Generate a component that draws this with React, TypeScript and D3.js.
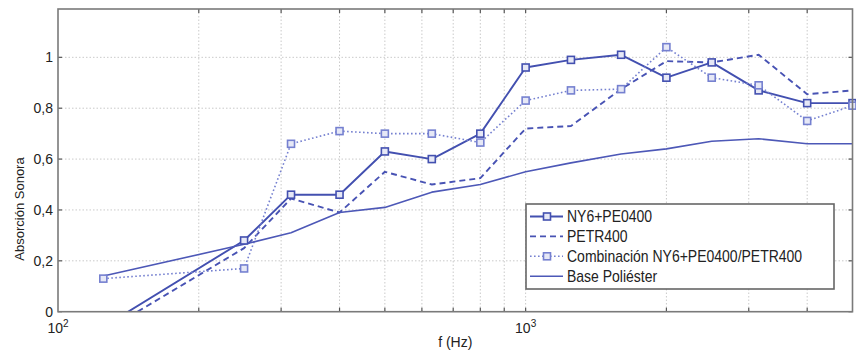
import { useEffect, useRef } from 'react';
import * as d3 from 'd3';

// third-octave bands measured (Hz)
const freqs = [125, 250, 315, 400, 500, 630, 800, 1000, 1250, 1600, 2000, 2500, 3150, 4000, 5000];

const ny6 = [-0.06, 0.28, 0.46, 0.46, 0.63, 0.6, 0.7, 0.96, 0.99, 1.01, 0.92, 0.98, 0.87, 0.82, 0.82];
const petr = [-0.08, 0.25, 0.445, 0.39, 0.55, 0.5, 0.525, 0.72, 0.73, 0.875, 0.985, 0.98, 1.01, 0.855, 0.87];
const combo = [0.13, 0.17, 0.66, 0.71, 0.7, 0.7, 0.665, 0.83, 0.87, 0.875, 1.04, 0.92, 0.89, 0.75, 0.81];
const base = [0.14, 0.265, 0.31, 0.39, 0.41, 0.47, 0.5, 0.55, 0.585, 0.62, 0.64, 0.67, 0.68, 0.66, 0.66];

const yTicks = [0, 0.2, 0.4, 0.6, 0.8, 1];
const yTickLabels = ['0', '0,2', '0,4', '0,6', '0,8', '1'];
const xMinor = [200, 300, 400, 500, 600, 700, 800, 900, 1000, 2000, 3000, 4000];
const xMajor = [{ v: 100, exp: '2' }, { v: 1000, exp: '3' }];

const series = [
  { name: 'NY6+PE0400', values: ny6, color: '#4350b0', dash: null, width: 1.9, marker: true },
  { name: 'PETR400', values: petr, color: '#4853b4', dash: '6,4', width: 1.9, marker: false },
  { name: 'Combinación NY6+PE0400/PETR400', values: combo, color: '#7580d0', dash: '1.6,2.4', width: 1.6, marker: true },
  { name: 'Base Poliéster', values: base, color: '#4d58b7', dash: null, width: 1.6, marker: false },
];

const W = 856, H = 354;
const FONT = '"Liberation Sans", Arial, sans-serif';

export default function App() {
  const svgRef = useRef<SVGSVGElement>(null);

  useEffect(() => {
    const svg = d3.select(svgRef.current);
    svg.selectAll('*').remove();

    const left = 58, right = 852.5, top = 9, bottom = 311.7;
    const x = d3.scaleLog().domain([100, 5000]).range([left, right]);
    const y = d3.scaleLinear().domain([0, 1.19]).range([bottom, top]);

    svg.append('rect').attr('width', W).attr('height', H).attr('fill', '#fff');

    svg.append('defs').append('clipPath').attr('id', 'plot-clip')
      .append('rect').attr('x', left).attr('y', top)
      .attr('width', right - left).attr('height', bottom - top);

    // grid
    const grid = svg.append('g').attr('stroke', '#cacaca').attr('stroke-width', 1)
      .attr('stroke-dasharray', '1.5,2');
    grid.selectAll('.vg').data(xMinor).join('line')
      .attr('x1', d => x(d)).attr('x2', d => x(d)).attr('y1', top).attr('y2', bottom);
    grid.selectAll('.hg').data(yTicks.slice(1)).join('line')
      .attr('x1', left).attr('x2', right).attr('y1', d => y(d)).attr('y2', d => y(d));

    // tick marks (inward, all four sides)
    const ticks = svg.append('g').attr('stroke', '#555').attr('stroke-width', 1.2);
    ticks.selectAll('.tb').data(xMinor).join('line')
      .attr('x1', d => x(d)).attr('x2', d => x(d)).attr('y1', bottom).attr('y2', bottom - 4);
    ticks.selectAll('.tt').data(xMinor).join('line')
      .attr('x1', d => x(d)).attr('x2', d => x(d)).attr('y1', top).attr('y2', top + 4);
    ticks.selectAll('.tl').data(yTicks).join('line')
      .attr('x1', left).attr('x2', left + 4).attr('y1', d => y(d)).attr('y2', d => y(d));
    ticks.selectAll('.tr').data(yTicks).join('line')
      .attr('x1', right).attr('x2', right - 4).attr('y1', d => y(d)).attr('y2', d => y(d));

    // series lines
    const line = d3.line<number>()
      .x((_, i) => x(freqs[i]))
      .y(d => y(d));
    const plot = svg.append('g').attr('clip-path', 'url(#plot-clip)');
    series.forEach(s => {
      plot.append('path').attr('d', line(s.values))
        .attr('fill', 'none').attr('stroke', s.color).attr('stroke-width', s.width)
        .attr('stroke-dasharray', s.dash).attr('stroke-linejoin', 'round');
    });

    // markers
    series.filter(s => s.marker).forEach(s => {
      svg.append('g').selectAll('rect')
        .data(s.values.map((v, i) => ({ v, f: freqs[i] })).filter(d => d.v >= 0))
        .join('rect')
        .attr('x', d => x(d.f) - 3.5).attr('y', d => y(d.v) - 3.5)
        .attr('width', 7).attr('height', 7)
        .attr('fill', '#e6e8f6').attr('stroke', s.color).attr('stroke-width', 1.6);
    });

    // frame
    svg.append('rect').attr('x', left).attr('y', top)
      .attr('width', right - left).attr('height', bottom - top)
      .attr('fill', 'none').attr('stroke', '#7a7a7a').attr('stroke-width', 1.6);

    // y tick labels
    svg.append('g').selectAll('text').data(yTicks).join('text')
      .attr('x', 53).attr('y', d => y(d) + 5)
      .attr('text-anchor', 'end').attr('font-family', FONT).attr('font-size', 14)
      .attr('fill', '#222')
      .text((_, i) => yTickLabels[i]);

    // x major labels 10^n
    const xl = svg.append('g').selectAll('text').data(xMajor).join('text')
      .attr('x', d => x(d.v)).attr('y', 333)
      .attr('text-anchor', 'middle').attr('font-family', FONT).attr('font-size', 14)
      .attr('fill', '#222');
    xl.append('tspan').text('10');
    xl.append('tspan').attr('dy', -6).attr('font-size', 10).text(d => d.exp);

    // axis titles
    svg.append('text').attr('x', (left + right) / 2).attr('y', 347)
      .attr('text-anchor', 'middle').attr('font-family', FONT).attr('font-size', 14)
      .attr('fill', '#222').text('f (Hz)');
    svg.append('text')
      .attr('transform', 'translate(24,209) rotate(-90)')
      .attr('text-anchor', 'middle').attr('font-family', FONT).attr('font-size', 13)
      .attr('fill', '#222').text('Absorción Sonora');

    // legend (condensed-looking text)
    const lg = svg.append('g');
    lg.append('rect').attr('x', 526).attr('y', 204).attr('width', 308).attr('height', 85)
      .attr('fill', '#fff').attr('stroke', '#666').attr('stroke-width', 1.6);
    series.forEach((s, i) => {
      const by = 222 + i * 19.9;
      const ly = by - 5.5;
      lg.append('line').attr('x1', 530).attr('x2', 563).attr('y1', ly).attr('y2', ly)
        .attr('stroke', s.color).attr('stroke-width', s.width).attr('stroke-dasharray', s.dash);
      if (s.marker) {
        lg.append('rect').attr('x', 547 - 3.5).attr('y', ly - 3.5).attr('width', 7).attr('height', 7)
          .attr('fill', '#e6e8f6').attr('stroke', s.color).attr('stroke-width', 1.6);
      }
      lg.append('text').attr('transform', `translate(567,${by}) scale(0.875,1)`)
        .attr('font-family', FONT).attr('font-size', 16).attr('fill', '#222').text(s.name);
    });
  }, []);

  return (
    <svg ref={svgRef} width={W} height={H}
      style={{ position: 'absolute', left: 0, top: 0, display: 'block' }} />
  );
}
